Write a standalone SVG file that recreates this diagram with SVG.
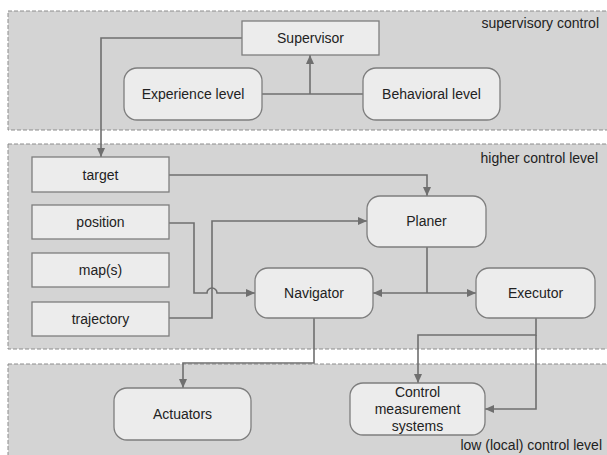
<svg xmlns="http://www.w3.org/2000/svg" width="607" height="455" viewBox="0 0 607 455">
<defs>
<marker id="ah" markerWidth="10" markerHeight="10" refX="9" refY="5" orient="auto" markerUnits="userSpaceOnUse">
<path d="M0,1 L9,5 L0,9 Z" fill="#6f6f6f"/>
</marker>
<style>
.panel{fill:#d4d4d4;stroke:#8c8c8c;stroke-width:1;stroke-dasharray:4,2}
.box{fill:#ececec;stroke:#7e7e7e;stroke-width:1.3}
.t{font-family:"Liberation Sans",Arial,sans-serif;font-size:14px;fill:#222;text-anchor:middle}
.lbl{font-family:"Liberation Sans",Arial,sans-serif;font-size:14px;fill:#222;text-anchor:end}
.c{fill:none;stroke:#6f6f6f;stroke-width:1.6}
</style>
</defs>
<rect width="607" height="455" fill="#ffffff"/>
<g id="panels">
<rect class="panel" x="8" y="11" width="640" height="119"/>
<rect class="panel" x="8" y="144" width="640" height="205"/>
<rect class="panel" x="8" y="364" width="640" height="120"/>
<text class="lbl" x="599" y="28">supervisory control</text>
<text class="lbl" x="598" y="163">higher control level</text>
<text class="lbl" x="602" y="450">low (local) control level</text>
</g>
<g id="connectors">
<path class="c" d="M242,38 H101 V157" marker-end="url(#ah)"/>
<path class="c" d="M262,94 H363"/>
<path class="c" d="M310,94 V55" marker-end="url(#ah)"/>
<path class="c" d="M169,175 H427 V196" marker-end="url(#ah)"/>
<path class="c" d="M169,223 H194 V293 H207 A5,5 0 0 1 217,293 H255" marker-end="url(#ah)"/>
<path class="c" d="M169,318 H212 V221 H367" marker-end="url(#ah)"/>
<path class="c" d="M427,247 V293"/>
<path class="c" d="M427,293 H373" marker-end="url(#ah)"/>
<path class="c" d="M427,293 H476" marker-end="url(#ah)"/>
<path class="c" d="M314,318 V363 H183 V388" marker-end="url(#ah)"/>
<path class="c" d="M536,318 V335 H418 V383" marker-end="url(#ah)"/>
<path class="c" d="M536,335 V409 H485" marker-end="url(#ah)"/>
</g>
<g id="supervisor"><rect class="box" x="242" y="21" width="137" height="34"/><text class="t" x="310.5" y="43">Supervisor</text></g>
<g id="experience"><rect class="box" x="124" y="68" width="138" height="52" rx="13"/><text class="t" x="193" y="99">Experience level</text></g>
<g id="behavioral"><rect class="box" x="363" y="68" width="137" height="52" rx="13"/><text class="t" x="431.5" y="99">Behavioral level</text></g>
<g id="target"><rect class="box" x="32" y="157" width="137" height="35"/><text class="t" x="100.5" y="180">target</text></g>
<g id="position"><rect class="box" x="32" y="205" width="137" height="34"/><text class="t" x="100.5" y="227">position</text></g>
<g id="maps"><rect class="box" x="32" y="253" width="137" height="34"/><text class="t" x="100.5" y="275">map(s)</text></g>
<g id="trajectory"><rect class="box" x="32" y="302" width="137" height="34"/><text class="t" x="100.5" y="324">trajectory</text></g>
<g id="planer"><rect class="box" x="367" y="196" width="119" height="51" rx="13"/><text class="t" x="426.5" y="226">Planer</text></g>
<g id="navigator"><rect class="box" x="255" y="268" width="118" height="50" rx="13"/><text class="t" x="314" y="298">Navigator</text></g>
<g id="executor"><rect class="box" x="476" y="268" width="119" height="50" rx="13"/><text class="t" x="535.5" y="298">Executor</text></g>
<g id="actuators"><rect class="box" x="114" y="388" width="137" height="52" rx="13"/><text class="t" x="182.5" y="419">Actuators</text></g>
<g id="cms"><rect class="box" x="350" y="383" width="135" height="52" rx="13"/><text class="t" x="417.5" y="397">Control</text><text class="t" x="417.5" y="414">measurement</text><text class="t" x="417.5" y="431">systems</text></g>
</svg>
